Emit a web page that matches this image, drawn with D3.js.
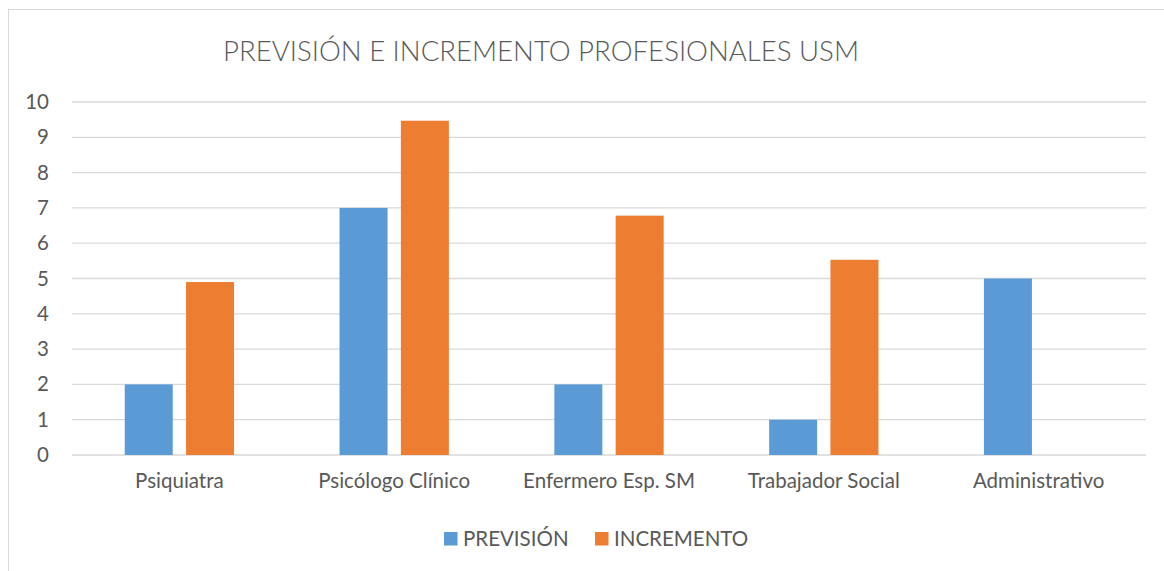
<!DOCTYPE html>
<html>
<head>
<meta charset="utf-8">
<script src="https://d3js.org/d3.v7.min.js"></script>
<style>
  body { margin: 0; background: #fff; font-family: Lato, "Open Sans", sans-serif; }
</style>
</head>
<body>
<svg id="chart" width="1164" height="571"></svg>
<script>
// data
var categories = ["Psiquiatra", "Psicólogo Clínico", "Enfermero Esp. SM", "Trabajador Social", "Administrativo"];
var series = ["PREVISIÓN", "INCREMENTO"];
var prevision = [2, 7, 2, 1, 5];
var incremento = [4.9, 9.47, 6.78, 5.53, 0];
var yTicks = [0, 1, 2, 3, 4, 5, 6, 7, 8, 9, 10];
var colors = ["#5B9BD5", "#ED7D31"];

var svg = d3.select("#chart");
var textColor = "#595959";
var labelSize = "20.5px";

// chart frame
svg.append("rect")
  .attr("x", 8.5).attr("y", 9.5)
  .attr("width", 1170).attr("height", 580)
  .attr("fill", "none")
  .attr("stroke", "#d9d9d9");

var plotLeft = 72, plotRight = 1146, plotTop = 102, plotBottom = 455;

var x0 = d3.scaleBand().domain(categories).range([plotLeft, plotRight]);
var bw = x0.bandwidth();
var barW = bw * 0.2235, gap = bw * 0.062;
var x1 = d3.scaleBand().domain(series)
  .range([bw / 2 - barW - gap / 2, bw / 2 + barW + gap / 2])
  .paddingInner(gap / (barW + gap));

var y = d3.scaleLinear().domain([0, 10]).range([plotBottom, plotTop]);

// gridlines
svg.append("g").selectAll("line")
  .data(yTicks).enter().append("line")
  .attr("x1", plotLeft).attr("x2", plotRight)
  .attr("y1", function(d) { return y(d); })
  .attr("y2", function(d) { return y(d); })
  .attr("stroke", "#d9d9d9")
  .attr("stroke-width", 1.3);

// y tick labels
var yAxis = d3.axisLeft(y).tickValues(yTicks).tickSize(0).tickPadding(0);
var ya = svg.append("g").attr("transform", "translate(49,0)").call(yAxis);
ya.select(".domain").remove();
ya.selectAll("text")
  .attr("fill", textColor)
  .style("font-size", labelSize)
  .style("font-family", "Lato, sans-serif");

// bars
var rows = categories.map(function(c, i) {
  return { cat: c, vals: [prevision[i], incremento[i]] };
});

var groups = svg.append("g").selectAll("g")
  .data(rows).enter().append("g")
  .attr("transform", function(d) { return "translate(" + x0(d.cat) + ",0)"; });

groups.selectAll("rect")
  .data(function(d) { return d.vals.map(function(v, j) { return { s: series[j], v: v, j: j }; }); })
  .enter().append("rect")
  .filter(function(d) { return d.v > 0; })
  .attr("x", function(d) { return x1(d.s); })
  .attr("width", x1.bandwidth())
  .attr("y", function(d) { return y(d.v); })
  .attr("height", function(d) { return y(0) - y(d.v); })
  .attr("fill", function(d) { return colors[d.j]; });

// x labels
var xAxis = d3.axisBottom(x0).tickSize(0).tickPadding(0);
var xa = svg.append("g").attr("transform", "translate(0,473)").call(xAxis);
xa.select(".domain").remove();
xa.selectAll("text")
  .attr("fill", textColor)
  .style("font-size", labelSize)
  .style("font-family", "Lato, sans-serif");

// title
svg.append("text")
  .attr("x", 541).attr("y", 61)
  .attr("text-anchor", "middle")
  .attr("fill", textColor)
  .style("font-size", "27.6px")
  .style("font-weight", 300)
  .style("font-family", "Lato, sans-serif")
  .text("PREVISIÓN E INCREMENTO PROFESIONALES USM");

// legend
var legendPos = [444, 595];
var lg = svg.append("g").selectAll("g")
  .data(series).enter().append("g")
  .attr("transform", function(d, i) { return "translate(" + legendPos[i] + ",532)"; });
lg.append("rect")
  .attr("width", 13.5).attr("height", 13.5)
  .attr("fill", function(d, i) { return colors[i]; });
lg.append("text")
  .attr("x", 19).attr("y", 14)
  .attr("fill", textColor)
  .style("font-size", labelSize)
  .style("font-family", "Lato, sans-serif")
  .text(function(d) { return d; });
</script>
</body>
</html>
